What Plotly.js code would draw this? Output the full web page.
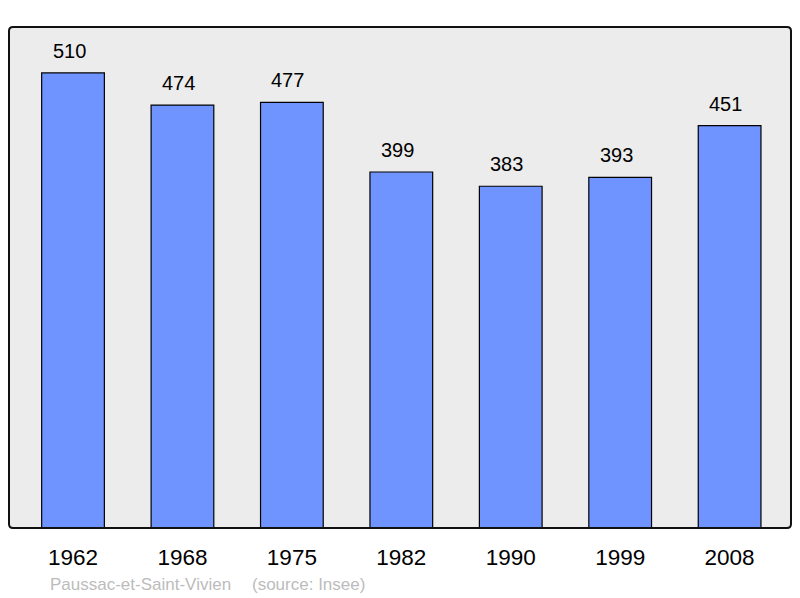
<!DOCTYPE html>
<html>
<head>
<meta charset="utf-8">
<script src="https://cdn.plot.ly/plotly-3.0.1.min.js"></script>
<style>html,body{margin:0;padding:0;background:#fff;}#chart{width:800px;height:598px;}</style>
</head>
<body>
<div id="chart"></div>
<script>
const years = ["1962", "1968", "1975", "1982", "1990", "1999", "2008"];
const population = [510, 474, 477, 399, 383, 393, 451];
const commune = "Paussac-et-Saint-Vivien";
const source = "(source: Insee)";

const rx = 4 / 782, ry = 4 / 501;
const framePath = `M ${rx},0 L ${1 - rx},0 Q 1,0 1,${ry} L 1,${1 - ry} Q 1,1 ${1 - rx},1 L ${rx},1 Q 0,1 0,${1 - ry} L 0,${ry} Q 0,0 ${rx},0 Z`;

const valueAnnotations = years.map((y, i) => ({
  x: i, y: population[i], xref: 'x', yref: 'y',
  text: String(population[i]), showarrow: false,
  yanchor: 'bottom', xanchor: 'center', xshift: -4, yshift: 9,
  font: {family: 'Liberation Sans, Arial, sans-serif', size: 20, color: '#000'}
}));

const data = [{
  type: 'bar', x: years, y: population, width: 0.573,
  marker: {color: '#7094ff', line: {color: '#000', width: 1.2}},
  hoverinfo: 'none'
}];

const layout = {
  width: 800, height: 598,
  margin: {l: 9, r: 9, t: 27, b: 70},
  paper_bgcolor: '#ffffff', plot_bgcolor: 'rgba(0,0,0,0)',
  showlegend: false,
  font: {family: 'Liberation Sans, Arial, sans-serif'},
  xaxis: {type: 'category', range: [-0.585, 6.561], showgrid: false, zeroline: false, showline: false,
    ticks: '', ticklabelstandoff: 13, tickfont: {size: 22.5, color: '#000'}, fixedrange: true},
  yaxis: {range: [0, 561.5], showgrid: false, zeroline: false, showline: false, showticklabels: false, ticks: '', fixedrange: true},
  shapes: [
    {type: 'path', xref: 'paper', yref: 'paper', path: framePath, fillcolor: '#ececec', line: {width: 0}, layer: 'below'},
    {type: 'path', xref: 'paper', yref: 'paper', path: framePath, fillcolor: 'rgba(0,0,0,0)', line: {color: '#111', width: 2}, layer: 'above'}
  ],
  annotations: valueAnnotations.concat([
    {xref: 'paper', yref: 'paper', x: (48 - 9) / 782, y: (528 - 584) / 501, xanchor: 'left', yanchor: 'middle',
     text: commune, showarrow: false, font: {size: 17, color: '#bcbcbc'}},
    {xref: 'paper', yref: 'paper', x: (250 - 9) / 782, y: (528 - 584) / 501, xanchor: 'left', yanchor: 'middle',
     text: source, showarrow: false, font: {size: 17, color: '#bcbcbc'}}
  ])
};

Plotly.newPlot('chart', data, layout, {staticPlot: true});
</script>
</body>
</html>
